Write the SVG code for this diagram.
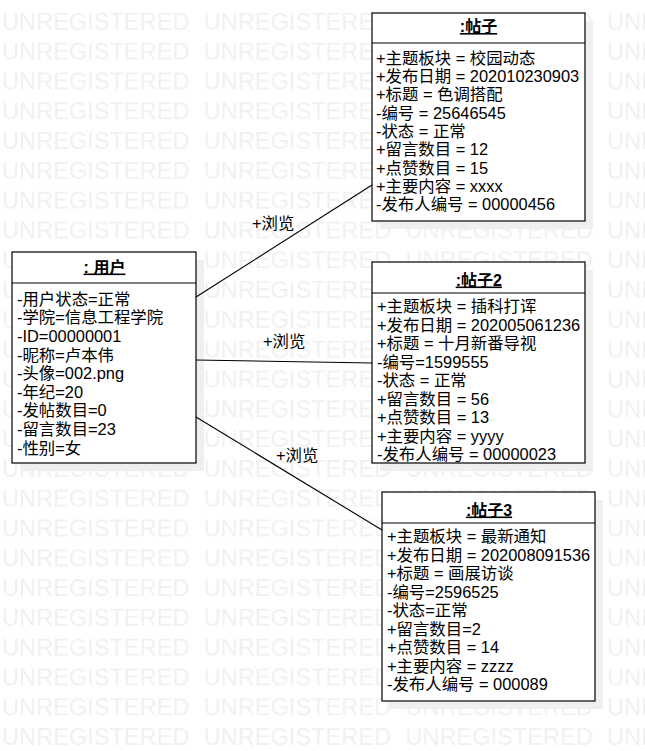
<svg xmlns="http://www.w3.org/2000/svg" width="645" height="751" viewBox="0 0 645 751">
<style>
  .box { fill: #ffffff; stroke: #000000; stroke-width: 1.2; }
  .shadow { fill: #efefef; }
  .div { stroke: #000000; stroke-width: 1.2; }
  .t { font-family: "Liberation Sans", "Noto Sans CJK SC", sans-serif; font-size: 16.4px; fill: #000000; }
  .title { font-family: "Liberation Sans", "Noto Sans CJK SC", sans-serif; font-size: 16px; font-weight: bold; fill: #000000; text-decoration: underline; text-anchor: middle; }
  .wm { font-family: "Liberation Sans", sans-serif; font-size: 23.6px; fill: #f0f0f0; }
  .conn { stroke: #000000; stroke-width: 1.1; fill: none; }
</style>
<defs>
  <pattern id="wmPat" patternUnits="userSpaceOnUse" x="2" y="0" width="201.7" height="29.8">
    <text class="wm" x="0" y="29.4">UNREGISTERED</text>
  </pattern>
</defs>
<rect x="0" y="0" width="645" height="751" fill="#ffffff"/>
<rect x="0" y="0" width="645" height="751" fill="url(#wmPat)"/>

<g id="user">
  <rect class="shadow" x="20" y="260" width="184" height="211"/>
  <rect class="box" x="12" y="252" width="184" height="211"/>
  <line class="div" x1="12" y1="283" x2="196" y2="283"/>
  <text class="title" x="104.5" y="272.5">:  用户</text>
  <text class="t" x="17" y="304.8">
    <tspan x="17">-用户状态=正常</tspan>
    <tspan x="17" dy="18.6">-学院=信息工程学院</tspan>
    <tspan x="17" dy="18.6">-ID=00000001</tspan>
    <tspan x="17" dy="18.6">-昵称=卢本伟</tspan>
    <tspan x="17" dy="18.6">-头像=002.png</tspan>
    <tspan x="17" dy="18.6">-年纪=20</tspan>
    <tspan x="17" dy="18.6">-发帖数目=0</tspan>
    <tspan x="17" dy="18.6">-留言数目=23</tspan>
    <tspan x="17" dy="18.6">-性别=女</tspan>
  </text>
</g>

<g id="post1">
  <rect class="shadow" x="380" y="21" width="213" height="208"/>
  <rect class="box" x="372" y="13" width="213" height="208"/>
  <line class="div" x1="372" y1="43" x2="585" y2="43"/>
  <text class="title" x="478.5" y="32">:帖子</text>
  <text class="t" x="376" y="63.8">
    <tspan x="376">+主题板块 = 校园动态</tspan>
    <tspan x="376" dy="18.3">+发布日期 = 202010230903</tspan>
    <tspan x="376" dy="18.3">+标题 = 色调搭配</tspan>
    <tspan x="376" dy="18.3">-编号 = 25646545</tspan>
    <tspan x="376" dy="18.3">-状态 = 正常</tspan>
    <tspan x="376" dy="18.3">+留言数目 = 12</tspan>
    <tspan x="376" dy="18.3">+点赞数目 = 15</tspan>
    <tspan x="376" dy="18.3">+主要内容 = xxxx</tspan>
    <tspan x="376" dy="18.3">-发布人编号 = 00000456</tspan>
  </text>
</g>

<g id="post2">
  <rect class="shadow" x="380" y="270" width="213" height="201"/>
  <rect class="box" x="372" y="262" width="213" height="201"/>
  <line class="div" x1="372" y1="293" x2="585" y2="293"/>
  <text class="title" x="478.8" y="285.5">:帖子2</text>
  <text class="t" x="377" y="312.2">
    <tspan x="377">+主题板块 = 插科打诨</tspan>
    <tspan x="377" dy="18.5">+发布日期 = 202005061236</tspan>
    <tspan x="377" dy="18.5">+标题 = 十月新番导视</tspan>
    <tspan x="377" dy="18.5">-编号=1599555</tspan>
    <tspan x="377" dy="18.5">-状态 = 正常</tspan>
    <tspan x="377" dy="18.5">+留言数目 = 56</tspan>
    <tspan x="377" dy="18.5">+点赞数目 = 13</tspan>
    <tspan x="377" dy="18.5">+主要内容 = yyyy</tspan>
    <tspan x="377" dy="18.5">-发布人编号 = 00000023</tspan>
  </text>
</g>

<g id="post3">
  <rect class="shadow" x="390" y="500" width="213" height="209"/>
  <rect class="box" x="382" y="492" width="213" height="209"/>
  <line class="div" x1="382" y1="523" x2="595" y2="523"/>
  <text class="title" x="489" y="515.5">:帖子3</text>
  <text class="t" x="387" y="542.2">
    <tspan x="387">+主题板块 = 最新通知</tspan>
    <tspan x="387" dy="18.5">+发布日期 = 202008091536</tspan>
    <tspan x="387" dy="18.5">+标题 = 画展访谈</tspan>
    <tspan x="387" dy="18.5">-编号=2596525</tspan>
    <tspan x="387" dy="18.5">-状态=正常</tspan>
    <tspan x="387" dy="18.5">+留言数目=2</tspan>
    <tspan x="387" dy="18.5">+点赞数目 = 14</tspan>
    <tspan x="387" dy="18.5">+主要内容 = zzzz</tspan>
    <tspan x="387" dy="18.5">-发布人编号 = 000089</tspan>
  </text>
</g>

<g id="connectors">
  <line class="conn" x1="196" y1="297" x2="372" y2="185"/>
  <line class="conn" x1="196" y1="360" x2="372" y2="363"/>
  <line class="conn" x1="196" y1="417" x2="382" y2="530"/>
  <text class="t" x="252" y="229">+浏览</text>
  <text class="t" x="263" y="347">+浏览</text>
  <text class="t" x="276" y="461">+浏览</text>
</g>
</svg>
